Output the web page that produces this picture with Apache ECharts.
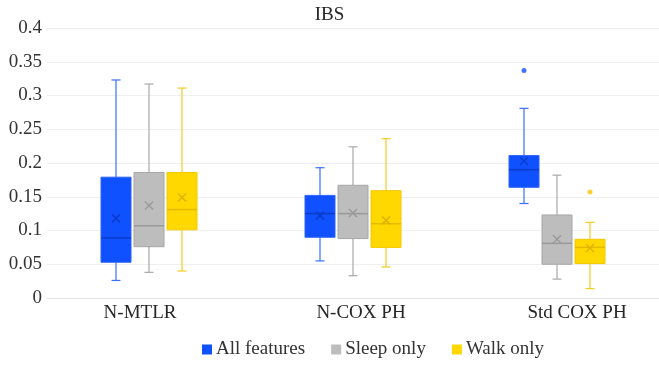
<!DOCTYPE html>
<html>
<head>
<meta charset="utf-8">
<script src="https://cdn.jsdelivr.net/npm/echarts@6/dist/echarts.min.js"></script>
<style>html,body{margin:0;padding:0;background:#fff;}#c{width:659px;height:365px;}</style>
</head>
<body>
<div id="c"></div>
<script>
const categories = ['N-MTLR', 'N-COX PH', 'Std COX PH'];
const yTicks = [0, 0.05, 0.1, 0.15, 0.2, 0.25, 0.3, 0.35, 0.4];
const seriesNames = ['All features', 'Sleep only', 'Walk only'];
// [min, Q1, median, Q3, max]
const allFeatures = [[0.026, 0.053, 0.089, 0.179, 0.323], [0.055, 0.090, 0.125, 0.152, 0.193], [0.140, 0.164, 0.190, 0.211, 0.281]];
const allMeans = [0.118, 0.122, 0.203];
const allOutliers = [[2, 0.337]];
const sleepOnly = [[0.038, 0.076, 0.107, 0.186, 0.317], [0.033, 0.088, 0.125, 0.167, 0.224], [0.028, 0.050, 0.081, 0.123, 0.182]];
const sleepMeans = [0.137, 0.126, 0.087];
const sleepOutliers = [];
const walkOnly = [[0.040, 0.101, 0.131, 0.186, 0.311], [0.046, 0.075, 0.110, 0.159, 0.236], [0.014, 0.051, 0.075, 0.087, 0.112]];
const walkMeans = [0.149, 0.115, 0.074];
const walkOutliers = [[2, 0.157]];

const FONT = 'Liberation Serif';
const styles = [
  {fill: '#0F50FF', border: '#2E63FF', whisker: '#3A6EFF', median: '#0A3CCB', mean: '#0A3CCB', dot: '#0F50FF', offset: -33},
  {fill: '#BDBDBD', border: '#A6A6A6', whisker: '#A8A8A8', median: '#9A9A9A', mean: '#9A9A9A', dot: '#A8A8A8', offset: 0},
  {fill: '#FFD800', border: '#F2C800', whisker: '#F5CB20', median: '#E3BA00', mean: '#DDB400', dot: '#F5C800', offset: 33}
];
const boxes = [allFeatures, sleepOnly, walkOnly];
const means = [allMeans, sleepMeans, walkMeans];
const outliers = [allOutliers, sleepOutliers, walkOutliers];

function makeRender(st) {
  return function (params, api) {
    const c = api.value(0);
    const x = api.coord([c, 0])[0] + st.offset;
    const y = [1, 2, 3, 4, 5, 6].map(i => api.coord([c, api.value(i)])[1]);
    const [pMin, pQ1, pMed, pQ3, pMax, pMean] = y;
    const bw = 30, cap = 4.5, m = 4;
    const wl = {stroke: st.whisker, lineWidth: 1.2};
    return {
      type: 'group',
      children: [
        {type: 'line', shape: {x1: x, y1: pMax, x2: x, y2: pQ3}, style: wl},
        {type: 'line', shape: {x1: x, y1: pQ1, x2: x, y2: pMin}, style: wl},
        {type: 'line', shape: {x1: x - cap, y1: pMax, x2: x + cap, y2: pMax}, style: wl},
        {type: 'line', shape: {x1: x - cap, y1: pMin, x2: x + cap, y2: pMin}, style: wl},
        {type: 'rect', shape: {x: x - bw / 2, y: pQ3, width: bw, height: pQ1 - pQ3}, style: {fill: st.fill, stroke: st.border, lineWidth: 1}},
        {type: 'line', shape: {x1: x - bw / 2, y1: pMed, x2: x + bw / 2, y2: pMed}, style: {stroke: st.median, lineWidth: 1.5}},
        {type: 'line', shape: {x1: x - m, y1: pMean - m, x2: x + m, y2: pMean + m}, style: {stroke: st.mean, lineWidth: 1.5}},
        {type: 'line', shape: {x1: x - m, y1: pMean + m, x2: x + m, y2: pMean - m}, style: {stroke: st.mean, lineWidth: 1.5}}
      ]
    };
  };
}

const series = [];
styles.forEach((st, s) => {
  series.push({
    name: seriesNames[s],
    type: 'custom',
    itemStyle: {color: st.fill},
    renderItem: makeRender(st),
    encode: {x: 0, y: [1, 2, 3, 4, 5, 6]},
    data: boxes[s].map((b, i) => [i].concat(b).concat([means[s][i]])),
    z: 2
  });
  if (outliers[s].length) {
    series.push({
      name: seriesNames[s],
      type: 'scatter',
      symbol: 'circle',
      symbolSize: 5,
      symbolOffset: [st.offset, 0],
      itemStyle: {color: st.dot},
      data: outliers[s],
      z: 3
    });
  }
});

const chart = echarts.init(document.getElementById('c'));
chart.setOption({
  animation: false,
  title: {text: 'IBS', left: 'center', top: 1, textStyle: {fontFamily: FONT, fontWeight: 'normal', fontSize: 19, color: '#262626'}},
  legend: {
    data: seriesNames.map(n => ({name: n, icon: 'rect'})),
    left: 202, top: 340, itemWidth: 10, itemHeight: 10, itemGap: 26, padding: 0,
    textStyle: {fontFamily: FONT, fontSize: 19, color: '#333', padding: [0, 0, 0, -1]}
  },
  grid: {left: 47, right: 0, top: 28, bottom: 67, containLabel: false},
  xAxis: {
    type: 'category', data: categories, boundaryGap: true,
    axisTick: {show: false},
    axisLine: {lineStyle: {color: '#E3E3E3'}},
    axisLabel: {
      margin: 6, interval: 0,
      formatter: function (v, i) { return '{' + ['a', 'b', 'c'][i] + '|' + v + '}'; },
      rich: {
        a: {fontFamily: FONT, fontSize: 19, color: '#262626', padding: [0, 18, 0, 0]},
        b: {fontFamily: FONT, fontSize: 19, color: '#262626', padding: [0, 0, 0, 16]},
        c: {fontFamily: FONT, fontSize: 19, color: '#262626', padding: [0, 0, 0, 40]}
      }
    }
  },
  yAxis: {
    type: 'value', min: yTicks[0], max: yTicks[yTicks.length - 1], interval: 0.05,
    axisLine: {show: false}, axisTick: {show: false},
    axisLabel: {margin: 5, fontFamily: FONT, fontSize: 19, color: '#333'},
    splitLine: {lineStyle: {color: '#EFEFEF'}}
  },
  series: series
});
</script>
</body>
</html>
